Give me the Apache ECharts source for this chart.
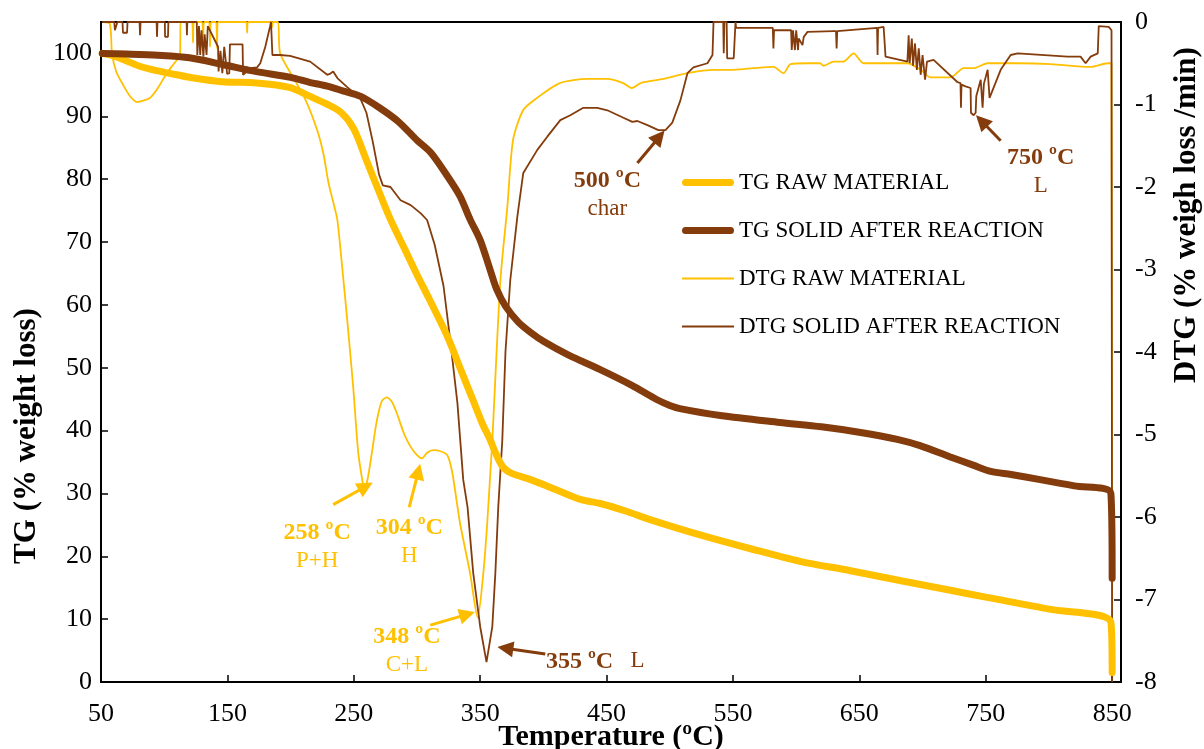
<!DOCTYPE html>
<html>
<head>
<meta charset="utf-8">
<script src="https://cdn.jsdelivr.net/npm/echarts@6/dist/echarts.min.js"></script>
<style>
  html, body { margin: 0; padding: 0; background: #fff; }
  #chart { width: 1204px; height: 749px; }
</style>
</head>
<body>
<div id="chart"></div>
<script>
// Thermogravimetric curves: [temperature ºC, value]
const tgRaw = [
  [51,100],[60,99.6],[68,99],[80,98.0],[93,97.3],[110,96.6],[120,96.2],[146,95.5],[173,95.3],
  [199,94.6],[215,93.2],[228,92],[240,90.6],[250,88],[260,83],[270,78],[279,73.6],[290,69],
  [300,64.8],[310,60.8],[324,55],[335,49.5],[345,44.5],[352,41],[358,38.5],[362,36.5],
  [368,34.2],[375,33.2],[390,32.2],[410,30.6],[430,29.0],[445,28.4],[465,27.2],[485,25.8],
  [524,23.4],[564,21.2],[603,19.2],[643,17.7],[683,16.1],[722,14.6],[750,13.5],[800,11.6],
  [849,9.5],[850,1.5]
];
const tgSolid = [
  [51,100],[70,99.9],[95,99.7],[120,99.3],[147,98.2],[173,97.1],[200,96.2],[215,95.4],
  [229,94.8],[242,94.0],[255,93.2],[270,91.4],[285,89.2],[300,86.2],[311,84.2],[324,80.5],
  [334,77.3],[342,73.6],[350,70.3],[358,65.5],[363,62.5],[370,59.8],[380,57.3],[390,55.6],
  [400,54.2],[420,52],[445,49.7],[470,47.2],[490,44.9],[500,44],[508,43.5],[540,42.4],
  [587,41.3],[620,40.6],[651,39.7],[680,38.6],[698,37.6],[722,35.8],[740,34.5],[754,33.5],
  [770,33],[793,32.2],[820,31.2],[849,30.0],[850,16.5]
];
const dtgRaw = [
  [52,0],[57,-0.02],[58.7,-0.38],[62,-0.6],[67.4,-0.76],[73,-0.9],[78.5,-0.97],[84,-0.95],
  [88.8,-0.92],[95,-0.8],[102,-0.62],[108,-0.5],[112.5,-0.4],[113,0],
  [122,0],[122.8,-0.25],[123.5,0],[130,0],[130.8,-0.3],[131.5,0],[135.5,0],[136.3,-0.3],
  [137,0],[141,0],[141.8,-0.32],[142.5,0],[165,0],[165.6,-0.13],[166.3,0],[184.8,0],
  [185.4,-0.06],[186,0],[190,0],[191.7,-0.38],[202,-0.67],[212,-0.95],[221,-1.31],
  [226,-1.6],[230,-1.95],[234,-2.2],[237,-2.4],[241,-3.0],[244.8,-3.61],[249.5,-4.42],
  [253.5,-5.22],[256.7,-5.55],[258,-5.65],[260,-5.6],[262,-5.45],[265,-5.15],[268,-4.85],
  [272,-4.6],[276,-4.55],[280,-4.6],[284,-4.74],[290,-5.0],[295,-5.15],[300,-5.25],
  [304,-5.29],[308,-5.22],[313,-5.19],[318,-5.2],[324,-5.25],[328,-5.47],[334,-6.07],
  [342,-6.68],[348,-7.22],[352.5,-6.68],[355.6,-6.07],[358,-5.47],[359.6,-5.07],
  [366,-3.13],[371.5,-2.24],[376,-1.43],[384,-1.07],[395,-0.92],[413,-0.74],[435,-0.69],
  [450.6,-0.69],[463,-0.74],[470,-0.8],[477,-0.74],[495,-0.69],[514,-0.62],[534.5,-0.58],
  [548,-0.58],[566,-0.56],[582,-0.545],[590,-0.62],[595.5,-0.51],[609,-0.5],[619,-0.5],
  [621.7,-0.53],[629.6,-0.48],[637.5,-0.48],[645.4,-0.38],[653.3,-0.5],[666.8,-0.5],
  [688,-0.5],[698.5,-0.58],[706.4,-0.67],[722.2,-0.67],[732.5,-0.56],[740.4,-0.56],
  [751.5,-0.5],[775.3,-0.5],[801.4,-0.51],[833,-0.545],[846.5,-0.5],[849.5,-0.5],[850,-7.9]
];
const dtgSolid = [
  [51,0],[60.5,0],[61,-0.1],[62.5,-0.1],[63,0],[67,0],[67.4,-0.13],[70.6,-0.13],[71,0],
  [80.5,0],[80.9,-0.16],[81.3,0],[94,0],[94.3,-0.18],[94.7,0],[100.5,0],[100.7,-0.18],
  [103,-0.18],[103.3,0],[117.7,0],[118,-0.16],[118.3,0],[125.8,0],[126.2,-0.4],
  [127.5,-0.05],[128.5,-0.4],[129.5,-0.1],[131,-0.42],[132,-0.15],[133.5,-0.4],
  [134.5,-0.05],[134.7,-0.05],[142.6,-0.3],[143,-0.6],[144.5,-0.35],[146,-0.62],
  [147.5,-0.3],[149.8,-0.63],[151.5,-0.62],[152,-0.27],[162,-0.27],[162.4,-0.64],
  [164,-0.62],[165,-0.55],[168,-0.56],[173.5,-0.55],[176,-0.5],[180,-0.3],[183.8,-0.05],
  [184.5,0],[185.4,0],[185.6,-0.4],[191.7,-0.4],[199.6,-0.41],[215.5,-0.48],[229,-0.64],
  [231,-0.63],[233.7,-0.6],[237,-0.68],[244.8,-0.79],[255,-0.92],[260,-1.1],[265,-1.45],
  [270,-1.85],[273,-1.98],[279,-2.0],[287,-2.16],[295,-2.22],[303,-2.32],[308,-2.4],
  [314,-2.7],[321,-3.2],[326,-3.82],[332,-4.62],[336.6,-5.55],[340,-5.88],[344.5,-6.68],
  [350,-7.33],[355,-7.76],[359.6,-7.33],[362,-6.68],[364.3,-5.88],[367.5,-5.07],
  [370,-4.0],[373.8,-3.13],[379.4,-2.36],[384.1,-1.83],[395.2,-1.55],[403.1,-1.39],
  [413.4,-1.19],[421.3,-1.13],[431.6,-1.04],[442.7,-1.04],[450.6,-1.07],[463.3,-1.16],
  [470.4,-1.21],[474.4,-1.2],[482.3,-1.25],[491,-1.31],[496.6,-1.31],[502,-1.22],
  [508.4,-0.95],[514,-0.62],[518.7,-0.55],[529.8,-0.5],[533.8,-0.4],[534.6,0],
  [542.3,0],[542.7,-0.38],[543.2,0],[545,0],[545.4,-0.44],[550.6,-0.44],[552,0],
  [552.5,-0.07],[581.5,-0.07],[582,-0.32],[582.5,-0.1],[596,-0.1],[596.5,-0.34],
  [597.5,-0.1],[599,-0.34],[600,-0.1],[601.5,-0.34],[602,-0.2],[603.4,-0.22],[605,-0.28],
  [606,-0.18],[609,-0.12],[629.6,-0.11],[631.5,-0.11],[632,-0.32],[632.5,-0.11],
  [664,-0.07],[664.4,-0.4],[664.8,-0.07],[669.2,-0.06],[670.7,-0.42],[688,-0.48],
  [689,-0.16],[689.8,-0.5],[691.5,-0.2],[692.5,-0.53],[694,-0.26],[695.5,-0.58],
  [697,-0.32],[698.5,-0.64],[700,-0.4],[702,-0.7],[703.5,-0.48],[708.7,-0.46],
  [727.7,-0.73],[730,-0.74],[730.4,-1.04],[730.8,-0.76],[734,-0.78],[738,-0.8],
  [738.3,-1.1],[740.4,-1.13],[742,-1.1],[742.5,-0.9],[746,-0.7],[747.5,-1.04],
  [748.5,-0.75],[751.5,-0.58],[753,-0.92],[761.8,-0.58],[769.7,-0.4],[775.3,-0.38],
  [814.8,-0.42],[825,-0.42],[829,-0.5],[833,-0.42],[838.6,-0.38],[839.4,-0.05],
  [847.3,-0.06],[849.5,-0.1],[850,-8]
];

const seriesNames = ['TG RAW MATERIAL', 'TG SOLID AFTER REACTION', 'DTG RAW MATERIAL', 'DTG SOLID AFTER REACTION'];
const xTicks = { min: 50, max: 857, step: 100 };
const tgTicks = { min: 0, max: 105, step: 10 };
const dtgTicks = { min: -8, max: 0, step: 1 };

// Peak annotations on the DTG scale: [temperature, dtg], text lines
const peakLabels = [
  { at: [221, -6.36], bold: '258 ºC', sub: 'P+H', color: '#FFC000' },
  { at: [293.9, -6.30], bold: '304 ºC', sub: 'H', color: '#FFC000' },
  { at: [292, -7.62], bold: '348 ºC', sub: 'C+L', color: '#FFC000' },
  { at: [450.6, -2.10], bold: '500 ºC', sub: 'char', color: '#843C0C' },
  { at: [793.5, -1.82], bold: '750 ºC', sub: 'L', color: '#843C0C' }
];
const inlineLabels = [
  { at: [441, -7.75], bold: '355 ºC', sub: 'L', color: '#843C0C' }
];
// Arrows: from -> to, on the DTG scale
const arrows = [
  { from: [233.7, -5.85], to: [259.5, -5.63], color: '#FFC000' },
  { from: [293.9, -5.88], to: [301.0, -5.45], color: '#FFC000' },
  { from: [310.5, -7.31], to: [339.8, -7.18], color: '#FFC000' },
  { from: [401.5, -7.66], to: [369.9, -7.59], color: '#843C0C' },
  { from: [474.4, -1.71], to: [491.8, -1.39], color: '#843C0C' },
  { from: [761.8, -1.44], to: [746.7, -1.20], color: '#843C0C' }
];

const YELLOW = '#FFC000';
const BROWN = '#843C0C';
const FONT = '"Liberation Serif", "Times New Roman", serif';
const THICK_ICON = 'path://M3.5,0H48.5A3.5,3.5 0 0 1 48.5,7H3.5A3.5,3.5 0 0 1 3.5,0Z';
const THIN_ICON = 'path://M0,0H52V2H0Z';

const axisCommon = {
  axisLine: { show: true, lineStyle: { color: '#000', width: 2 } },
  axisTick: { show: true, inside: true, length: 7, lineStyle: { color: '#000', width: 1.5 } },
  splitLine: { show: false },
  axisLabel: { color: '#000', fontFamily: FONT, fontSize: 26, showMaxLabel: false }
};

const chart = echarts.init(document.getElementById('chart'), null, { renderer: 'canvas' });

const arrowEnd = (pt, color) => ({
  coord: pt, symbol: 'triangle', symbolSize: 16,
  lineStyle: { color: color, width: 3, type: 'solid' }, itemStyle: { color: color }
});

const option = {
  animation: false,
  backgroundColor: '#fff',
  grid: {
    left: 101, right: 83, top: 22, bottom: 67, containLabel: false, outerBoundsMode: 'none',
    show: true, borderColor: '#000', borderWidth: 2
  },
  xAxis: Object.assign({}, axisCommon, {
    type: 'value', min: xTicks.min, max: xTicks.max, interval: xTicks.step,
    axisLabel: Object.assign({}, axisCommon.axisLabel, { margin: 19 }),
    name: 'Temperature (ºC)', nameLocation: 'middle', nameGap: 40, nameMoveOverlap: false,
    nameTextStyle: { color: '#000', fontFamily: FONT, fontSize: 30, fontWeight: 'bold' }
  }),
  yAxis: [
    Object.assign({}, axisCommon, {
      type: 'value', position: 'left', min: tgTicks.min, max: tgTicks.max, interval: tgTicks.step,
      axisLabel: Object.assign({}, axisCommon.axisLabel, { margin: 9 })
    }),
    Object.assign({}, axisCommon, {
      type: 'value', position: 'right', min: dtgTicks.min, max: dtgTicks.max, interval: dtgTicks.step,
      axisLabel: Object.assign({}, axisCommon.axisLabel, { margin: 14, showMaxLabel: true })
    })
  ],
  legend: {
    orient: 'vertical', left: 677, top: 166, itemWidth: 52, itemHeight: 14, itemGap: 25,
    textStyle: { color: '#000', fontFamily: FONT, fontSize: 23 },
    data: [
      { name: seriesNames[0], icon: THICK_ICON, itemStyle: { color: YELLOW } },
      { name: seriesNames[1], icon: THICK_ICON, itemStyle: { color: BROWN } },
      { name: seriesNames[2], icon: THIN_ICON, itemStyle: { color: YELLOW } },
      { name: seriesNames[3], icon: THIN_ICON, itemStyle: { color: BROWN } }
    ]
  },
  graphic: [
    { type: 'text', x: 27, y: 436, rotation: Math.PI / 2,
      style: { text: 'TG (% weight loss)', font: 'bold 31px ' + FONT, fill: '#000', align: 'center', verticalAlign: 'middle' } },
    { type: 'text', x: 1187, y: 215, rotation: Math.PI / 2,
      style: { text: 'DTG (% weigh loss /min)', font: 'bold 31px ' + FONT, fill: '#000', align: 'center', verticalAlign: 'middle' } }
  ],
  series: [
    { name: seriesNames[0], type: 'line', yAxisIndex: 0, data: tgRaw, showSymbol: false, symbol: 'none',
      smooth: 0.3, lineStyle: { color: YELLOW, width: 7, cap: 'round' }, itemStyle: { color: YELLOW }, z: 3 },
    { name: seriesNames[1], type: 'line', yAxisIndex: 0, data: tgSolid, showSymbol: false, symbol: 'none',
      smooth: 0.3, lineStyle: { color: BROWN, width: 7, cap: 'round' }, itemStyle: { color: BROWN }, z: 3 },
    { name: seriesNames[2], type: 'line', yAxisIndex: 1, data: dtgRaw, showSymbol: false, symbol: 'none',
      smooth: 0.25, lineStyle: { color: YELLOW, width: 1.8 }, itemStyle: { color: YELLOW }, z: 2,
      markPoint: {
        symbol: 'circle', symbolSize: 1, itemStyle: { color: 'rgba(0,0,0,0)' },
        data: peakLabels.map(p => ({
          coord: p.at,
          label: {
            show: true, position: 'inside', align: 'center', verticalAlign: 'middle',
            formatter: '{b|' + p.bold + '}\n{r|' + p.sub + '}',
            rich: {
              b: { fontFamily: FONT, fontSize: 24, fontWeight: 'bold', color: p.color, lineHeight: 28, align: 'center' },
              r: { fontFamily: FONT, fontSize: 23, color: p.color, lineHeight: 28, align: 'center' }
            }
          }
        })).concat(inlineLabels.map(p => ({
          coord: p.at,
          label: {
            show: true, position: 'inside', align: 'center', verticalAlign: 'middle',
            formatter: '{b|' + p.bold + '}{r|   ' + p.sub + '}',
            rich: {
              b: { fontFamily: FONT, fontSize: 24, fontWeight: 'bold', color: p.color },
              r: { fontFamily: FONT, fontSize: 23, color: p.color }
            }
          }
        })))
      }
    },
    { name: seriesNames[3], type: 'line', yAxisIndex: 1, data: dtgSolid, showSymbol: false, symbol: 'none',
      smooth: false, lineStyle: { color: BROWN, width: 1.8 }, itemStyle: { color: BROWN }, z: 2,
      markLine: {
        silent: true, symbol: ['none', 'triangle'], symbolSize: 16, label: { show: false },
        data: arrows.map(a => ([
          { coord: a.from, symbol: 'none', symbolSize: 0, lineStyle: { color: a.color, width: 3, type: 'solid' }, itemStyle: { color: a.color } },
          arrowEnd(a.to, a.color)
        ]))
      }
    }
  ]
};

chart.setOption(option);
</script>
</body>
</html>
